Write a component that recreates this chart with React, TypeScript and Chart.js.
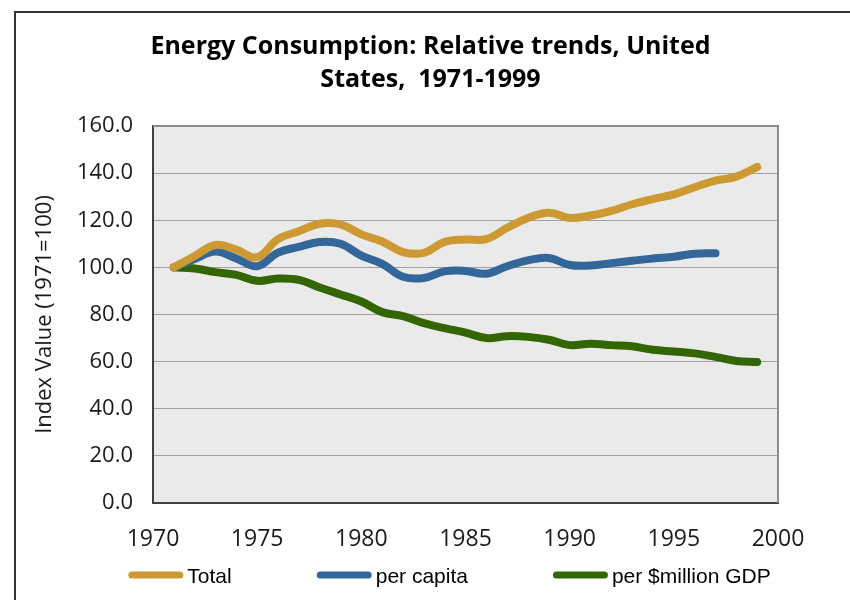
import React, { useEffect, useRef } from "react";
import { Chart, registerables } from "chart.js";

Chart.register(...registerables);

const TITLE_LINES = ["Energy Consumption: Relative trends, United", "States,  1971-1999"];
const Y_TITLE = "Index Value (1971=100)";
const YEARS = [1971, 1972, 1973, 1974, 1975, 1976, 1977, 1978, 1979, 1980, 1981, 1982, 1983, 1984, 1985, 1986, 1987, 1988, 1989, 1990, 1991, 1992, 1993, 1994, 1995, 1996, 1997, 1998, 1999];
const TOTAL = [100, 104.8, 109.5, 107.5, 104.3, 112, 115.3, 118.5, 118.2, 114, 111, 106.5, 106.2, 110.8, 111.8, 112, 116.8, 121, 123.2, 121, 122, 124, 126.8, 129, 131, 134, 136.8, 138.5, 142.6];
const PER_CAPITA = [100, 103.5, 106.7, 103.8, 100.5, 106.3, 108.7, 110.8, 110, 105, 101.5, 96, 95.5, 98.3, 98.5, 97.3, 100.5, 103, 104, 101, 100.8, 101.8, 102.8, 103.8, 104.5, 105.8, 106];
const PER_GDP = [100, 99.5, 98, 96.8, 94.3, 95.3, 94.7, 91.5, 88.5, 85.5, 81, 79.3, 76.3, 74.2, 72.3, 70, 70.8, 70.5, 69.3, 67, 67.6, 67, 66.5, 65, 64.3, 63.5, 62, 60.3, 59.8];
const SERIES_NAMES = ["Total", "per capita", "per $million GDP"];
const SERIES_COLORS = ["#CC9933", "#336699", "#336600"];
const Y_MIN = 0;
const Y_MAX = 160;
const Y_STEP = 20;
const X_MIN = 1970;
const X_MAX = 2000;
const X_STEP = 5;

const toPoints = (vals: number[]) => vals.map((v, i) => ({ x: YEARS[i], y: v }));

const decorPlugin = {
  id: "decor",
  beforeDraw(chart: any) {
    const { ctx, chartArea: a } = chart;
    ctx.save();
    ctx.fillStyle = "#EAEAEA";
    ctx.fillRect(a.left, a.top, a.right - a.left, a.bottom - a.top);
    ctx.strokeStyle = "#333333";
    ctx.lineWidth = 2;
    ctx.strokeRect(15, 12, 900, 700);
    ctx.restore();
  },
  afterDraw(chart: any) {
    const { ctx, chartArea: a } = chart;
    ctx.save();
    ctx.strokeStyle = "#8C8C8C";
    ctx.lineWidth = 2;
    ctx.beginPath();
    ctx.moveTo(a.left, a.top);
    ctx.lineTo(a.right, a.top);
    ctx.lineTo(a.right, a.bottom);
    ctx.stroke();
    // legend
    ctx.font = '21px "Liberation Sans", Arial, sans-serif';
    ctx.textBaseline = "middle";
    ctx.textAlign = "left";
    const ds = chart.data.datasets;
    const markW = 55;
    const textGap = 4;
    const gap = 85;
    const widths = ds.map((d: any) => markW + textGap + ctx.measureText(d.label).width);
    const total = widths.reduce((s: number, w: number) => s + w, 0) + gap * (ds.length - 1);
    let x = 449.5 - total / 2;
    const y = a.bottom + 72;
    ds.forEach((d: any, i: number) => {
      ctx.strokeStyle = d.borderColor;
      ctx.lineWidth = 7;
      ctx.lineCap = "round";
      ctx.beginPath();
      ctx.moveTo(x + 3.5, y);
      ctx.lineTo(x + markW - 3.5, y);
      ctx.stroke();
      ctx.fillStyle = "#000000";
      ctx.fillText(d.label, x + markW + textGap, y + 2);
      x += widths[i] + gap;
    });
    ctx.restore();
  },
};

export default function App() {
  const ref = useRef<HTMLCanvasElement | null>(null);
  useEffect(() => {
    document.body.style.margin = "0";
    if (!ref.current) return;
    const seriesData = [TOTAL, PER_CAPITA, PER_GDP];
    const chart = new Chart(ref.current, {
      type: "line",
      data: {
        datasets: seriesData.map((vals, i) => ({
          label: SERIES_NAMES[i],
          data: toPoints(vals),
          borderColor: SERIES_COLORS[i],
          backgroundColor: SERIES_COLORS[i],
          borderWidth: 8,
          pointRadius: 0,
          tension: 0.4,
          borderCapStyle: "round",
          borderJoinStyle: "round",
          fill: false,
          yAxisID: "y",
        })),
      },
      options: {
        animation: false,
        responsive: false,
        layout: { padding: { left: 11, top: 0, right: 0, bottom: 0 } },
        plugins: {
          legend: { display: false },
          tooltip: { enabled: false },
          title: {
            display: true,
            text: TITLE_LINES,
            color: "#000000",
            font: { family: '"Open Sans", sans-serif', size: 25, weight: "bold", lineHeight: 1.32 },
            padding: { top: 30, bottom: 30 },
          },
        },
        scales: {
          x: {
            type: "linear",
            min: X_MIN,
            max: X_MAX,
            grid: { display: false, drawTicks: false },
            border: { display: true, color: "#404040", width: 2 },
            ticks: {
              stepSize: X_STEP,
              padding: 23,
              color: "#1a1a1a",
              font: { family: '"Open Sans", sans-serif', size: 23 },
              callback: (v: any) => String(v),
            },
            afterFit: (s: any) => {
              s.height = 97;
            },
          },
          y: {
            type: "linear",
            position: "left",
            min: Y_MIN,
            max: Y_MAX,
            grid: { color: "#A0A0A0", lineWidth: 1, drawTicks: false },
            border: { display: true, color: "#404040", width: 2 },
            ticks: {
              stepSize: Y_STEP,
              padding: 20,
              color: "#1a1a1a",
              font: { family: '"Open Sans", sans-serif', size: 22 },
              callback: (v: any) => Number(v).toFixed(1),
            },
            title: {
              display: true,
              text: Y_TITLE,
              color: "#1a1a1a",
              font: { family: '"Open Sans", sans-serif', size: 22 },
              padding: { top: 21, bottom: 0 },
            },
            afterFit: (s: any) => {
              s.width = 142;
            },
          },
          y2: {
            type: "linear",
            position: "right",
            display: true,
            grid: { display: false, drawTicks: false },
            border: { display: false },
            ticks: { display: false },
            afterFit: (s: any) => {
              s.width = 72;
            },
          },
        },
      },
      plugins: [decorPlugin],
    } as any);
    return () => chart.destroy();
  }, []);
  return <canvas ref={ref} width={850} height={600} style={{ display: "block" }} />;
}
